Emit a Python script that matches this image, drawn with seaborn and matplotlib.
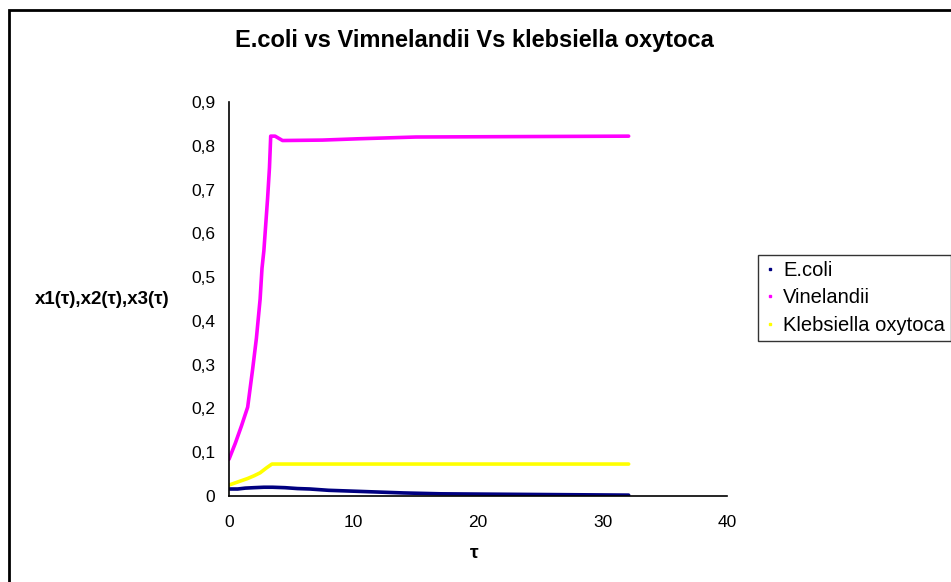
#!/usr/bin/env python3
"""E.coli vs Vinelandii vs Klebsiella oxytoca - Excel style line chart."""
import matplotlib
matplotlib.use("Agg")
import matplotlib.pyplot as plt
import pandas as pd
import seaborn as sns
from matplotlib.patches import Rectangle
from matplotlib.ticker import FuncFormatter

# data
t_ecoli = [0, 0.7, 1.3, 2.0, 2.8, 3.5, 4.5, 5.5, 6.5, 8.0, 10.0, 12.0, 14.0, 17.0, 22.0, 27.0, 32.1]
ecoli = [0.016, 0.016, 0.018, 0.019, 0.020, 0.020, 0.019, 0.017, 0.016, 0.013, 0.011, 0.009, 0.007, 0.005, 0.004, 0.003, 0.002]

t_vine = [0, 0.5, 1.0, 1.5, 1.9, 2.2, 2.5, 2.65, 2.8, 2.95, 3.1, 3.25, 3.35, 3.7, 4.3, 7.5, 10.4, 15.0, 32.1]
vine = [0.084, 0.12, 0.16, 0.203, 0.29, 0.36, 0.45, 0.52, 0.56, 0.62, 0.68, 0.75, 0.822, 0.822, 0.812, 0.813, 0.816, 0.82, 0.822]

t_kleb = [0, 0.5, 1.0, 1.5, 2.0, 2.5, 3.0, 3.45, 10.0, 20.0, 32.1]
kleb = [0.025, 0.030, 0.035, 0.040, 0.046, 0.053, 0.064, 0.073, 0.073, 0.073, 0.073]

x_ticks = [0, 10, 20, 30, 40]
y_ticks = [0, 0.1, 0.2, 0.3, 0.4, 0.5, 0.6, 0.7, 0.8, 0.9]

series = {
    "E.coli": (t_ecoli, ecoli, "#000080"),
    "Vinelandii": (t_vine, vine, "#FF00FF"),
    "Klebsiella oxytoca": (t_kleb, kleb, "#FFFF00"),
}

sns.set_style("white")
plt.rcParams["font.family"] = ["Liberation Sans", "DejaVu Sans"]
plt.rcParams["text.color"] = "black"
plt.rcParams["xtick.color"] = "black"
plt.rcParams["ytick.color"] = "black"

fig = plt.figure(figsize=(9.51, 5.82), dpi=100)
ax = fig.add_axes([229 / 951, 1 - 496 / 582, (727 - 229) / 951, (496 - 102) / 582])

# outer chart frame (right and bottom edges run off the picture)
fig.patches.append(Rectangle((9 / 951, -0.05), 1.2, 1.05 - 10 / 582, transform=fig.transFigure,
                             fill=False, edgecolor="black", linewidth=2.0))

for name, (t, v, col) in series.items():
    df = pd.DataFrame({"t": t, "v": v})
    sns.lineplot(data=df, x="t", y="v", ax=ax, color=col, linewidth=2.6,
                 label=name, estimator=None, sort=False)

ax.set_xlim(0, 40)
ax.set_ylim(0, 0.9)
ax.set_xticks(x_ticks)
ax.set_yticks(y_ticks)
ax.yaxis.set_major_formatter(FuncFormatter(lambda v, p: "0" if v == 0 else f"{v:.1f}".replace(".", ",")))
ax.tick_params(axis="both", direction="out", length=6, width=1, labelsize=12.5,
               color="black", labelcolor="black", pad=4)
ax.tick_params(axis="x", pad=8)
for s in ["top", "right"]:
    ax.spines[s].set_visible(False)
for s in ["left", "bottom"]:
    ax.spines[s].set_color("black")
    ax.spines[s].set_linewidth(1.2)

ax.set_xlabel("")
ax.set_ylabel("")
fig.text(474 / 951, 1 - 40 / 582, "E.coli vs Vimnelandii Vs klebsiella oxytoca",
         ha="center", va="center", fontsize=17, fontweight="bold", color="black")
fig.text(102 / 951, 1 - 299 / 582, "x1(τ),x2(τ),x3(τ)", ha="center", va="center",
         fontsize=13.5, fontweight="bold", color="black")
fig.text(474 / 951, 1 - 553 / 582, "τ", ha="center", va="center",
         fontsize=14, fontweight="bold", color="black")

# legend with tiny markers like Excel
handles = [plt.Line2D([], [], linestyle="none", marker="s", markersize=2, color=c)
           for (_, _, c) in series.values()]
leg = ax.legend(handles, list(series.keys()), loc="upper left",
                bbox_to_anchor=(758 / 951, 1 - 255 / 582), bbox_transform=fig.transFigure,
                frameon=True, fancybox=False, fontsize=14.5, handlelength=0.6,
                handletextpad=0.35, borderpad=0.3, labelspacing=0.42, borderaxespad=0)
leg.get_frame().set_edgecolor("black")
leg.get_frame().set_linewidth(1.0)
for txt in leg.get_texts():
    txt.set_color("black")

fig.savefig("out.png", dpi=100)
